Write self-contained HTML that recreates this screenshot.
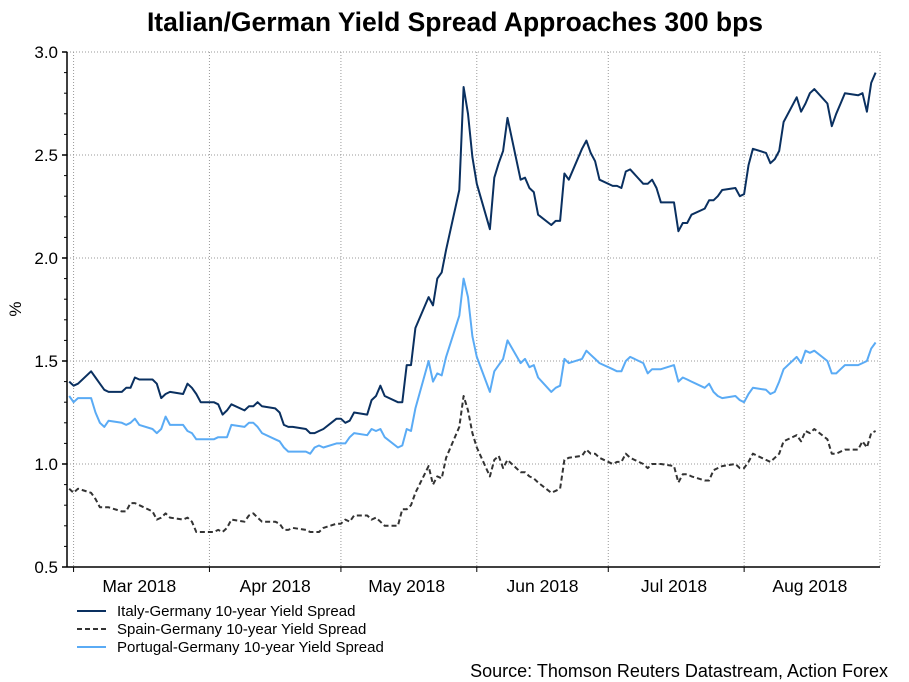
<!DOCTYPE html>
<html><head><meta charset="utf-8"><style>
html,body{margin:0;padding:0;background:#fff;}
svg{display:block;font-family:"Liberation Sans",Arial,sans-serif;}
</style></head><body>
<svg id="chart" width="909" height="682" viewBox="0 0 909 682" xmlns="http://www.w3.org/2000/svg">
<text x="455" y="31" text-anchor="middle" font-size="26.5" font-weight="bold" fill="#000">Italian/German Yield Spread Approaches 300 bps</text>
<text transform="translate(21,309) rotate(-90)" text-anchor="middle" font-size="17" fill="#000">%</text>
<g id="grid"></g>
<g id="axes"></g>
<g id="series"></g>
<g font-size="15" fill="#000">
  <line x1="77" y1="611" x2="106" y2="611" stroke="#0a3060" stroke-width="2"/>
  <text x="117" y="616">Italy-Germany 10-year Yield Spread</text>
  <line x1="77" y1="629" x2="106" y2="629" stroke="#333" stroke-width="2" stroke-dasharray="5,3"/>
  <text x="117" y="634">Spain-Germany 10-year Yield Spread</text>
  <line x1="77" y1="647" x2="106" y2="647" stroke="#5aabf5" stroke-width="2"/>
  <text x="117" y="652">Portugal-Germany 10-year Yield Spread</text>
</g>
<text x="888" y="677" text-anchor="end" font-size="18" fill="#000">Source: Thomson Reuters Datastream, Action Forex</text>
</svg>
<script>
const startDate = "2018-02-28";
const endDate = "2018-08-31";
const monthStarts = ["2018-03-01","2018-04-01","2018-05-01","2018-06-01","2018-07-01","2018-08-01"];
const monthLabels = ["Mar 2018","Apr 2018","May 2018","Jun 2018","Jul 2018","Aug 2018"];
const yTicks = [0.5,1.0,1.5,2.0,2.5,3.0];
const yTickLabels = ["0.5","1.0","1.5","2.0","2.5","3.0"];
const italy = [1.40,1.38,1.39,1.45,1.42,1.39,1.36,1.35,1.35,1.37,1.37,1.42,1.41,1.41,1.39,1.32,1.34,1.35,1.34,1.39,1.37,1.34,1.30,1.30,1.29,1.24,1.26,1.29,1.26,1.28,1.28,1.30,1.28,1.27,1.25,1.19,1.18,1.18,1.17,1.15,1.15,1.16,1.17,1.22,1.22,1.20,1.21,1.25,
1.24,1.31,1.33,1.38,1.33,1.30,1.30,1.48,1.48,1.66,1.81,1.77,1.90,1.93,2.04,2.33,2.83,2.70,2.49,2.36,2.14,2.39,2.46,2.52,2.68,2.38,2.39,2.34,2.32,2.21,2.16,2.18,2.18,2.41,2.38,2.53,2.57,2.51,2.47,2.38,2.35,2.35,2.34,
2.42,2.43,2.36,2.36,2.38,2.34,2.27,2.27,2.13,2.17,2.17,2.21,2.24,2.28,2.28,2.30,2.33,2.34,2.30,2.31,2.45,2.53,2.51,2.46,2.48,2.52,2.66,2.78,2.71,2.75,2.80,2.82,2.75,2.64,2.70,2.75,2.80,2.79,2.80,2.71,2.85,2.90];
const spain = [0.88,0.86,0.88,0.86,0.83,0.79,0.79,0.79,0.77,0.77,0.81,0.81,0.80,0.77,0.73,0.74,0.76,0.74,0.73,0.74,0.72,0.67,0.67,0.67,0.68,0.67,0.69,0.73,0.72,0.75,0.76,0.74,0.72,0.72,0.71,0.68,0.68,0.69,0.68,0.67,0.67,0.67,0.69,0.71,0.71,0.73,0.72,0.75,
0.75,0.73,0.74,0.72,0.70,0.70,0.78,0.78,0.80,0.86,0.99,0.90,0.94,0.93,1.03,1.18,1.33,1.26,1.15,1.08,0.94,1.02,1.04,0.98,1.02,0.96,0.96,0.94,0.93,0.91,0.86,0.87,0.88,1.02,1.03,1.04,1.07,1.05,1.05,1.03,1.00,1.01,1.01,
1.05,1.03,1.00,0.98,1.00,1.00,1.00,0.99,0.91,0.95,0.95,0.94,0.92,0.92,0.97,0.98,0.99,1.00,0.98,0.98,1.01,1.05,1.02,1.01,1.03,1.05,1.11,1.14,1.11,1.16,1.15,1.17,1.12,1.05,1.05,1.06,1.07,1.07,1.11,1.08,1.15,1.16];
const portugal = [1.33,1.30,1.32,1.32,1.25,1.20,1.18,1.21,1.20,1.19,1.20,1.22,1.19,1.17,1.15,1.17,1.23,1.19,1.19,1.16,1.15,1.12,1.12,1.12,1.13,1.13,1.13,1.19,1.18,1.20,1.20,1.18,1.15,1.12,1.11,1.08,1.06,1.06,1.06,1.05,1.08,1.09,1.08,1.10,1.10,1.10,1.13,1.15,
1.14,1.17,1.16,1.17,1.13,1.08,1.09,1.17,1.16,1.27,1.50,1.40,1.44,1.43,1.52,1.72,1.90,1.81,1.62,1.52,1.35,1.45,1.48,1.51,1.60,1.49,1.51,1.47,1.48,1.42,1.35,1.37,1.38,1.51,1.49,1.51,1.55,1.53,1.51,1.49,1.46,1.45,1.45,
1.50,1.52,1.49,1.44,1.46,1.46,1.46,1.48,1.40,1.42,1.41,1.40,1.37,1.39,1.35,1.33,1.32,1.33,1.31,1.30,1.34,1.37,1.36,1.34,1.35,1.40,1.46,1.52,1.49,1.55,1.54,1.55,1.50,1.44,1.44,1.46,1.48,1.48,1.49,1.50,1.56,1.59];

const NS = "http://www.w3.org/2000/svg";
const L = 67, R = 880, T = 52, B = 567;
const dom0 = Date.UTC(2018,1,27,12), dom1 = Date.UTC(2018,8,1);
function ms(s){const p=s.split("-");return Date.UTC(+p[0],+p[1]-1,+p[2]);}
function xScale(t){return L + (t-dom0)/(dom1-dom0)*(R-L);}
function yScale(v){return B - (v-0.5)/(3.0-0.5)*(B-T);}
const dates = [];
for(let t=ms(startDate); t<=ms(endDate); t+=86400000){const d=new Date(t).getUTCDay(); if(d!==0&&d!==6) dates.push(t);}

function mk(tag, attrs, parent){const e=document.createElementNS(NS,tag);for(const k in attrs)e.setAttribute(k,attrs[k]);parent.appendChild(e);return e;}
const grid=document.getElementById("grid"), axes=document.getElementById("axes"), ser=document.getElementById("series");

yTicks.forEach((v,i)=>{
  const y=yScale(v);
  const g=mk("line",{x1:L,x2:R,y1:y,y2:y,stroke:"#999","stroke-width":1,"stroke-dasharray":"1,2"},grid);
  
  
  const tk=mk("line",{x1:L-5,x2:L,y1:y,y2:y,stroke:"#000","stroke-width":1.5},axes);
  
  
  const tx=mk("text",{x:L-9,y:y+6,"text-anchor":"end","font-size":17,fill:"#000"},axes);
  tx.textContent=yTickLabels[i];
  
  
});
for(let v=0.6; v<3.0; v+=0.1){
  if(Math.abs(v*2-Math.round(v*2))<1e-6) continue;
  const y=yScale(v);
  const mt=mk("line",{x1:L-3,x2:L,y1:y,y2:y,stroke:"#000","stroke-width":1},axes);
  
  
}
const rb=mk("line",{x1:R,x2:R,y1:T,y2:B,stroke:"#999","stroke-width":1,"stroke-dasharray":"1,2"},grid);


monthStarts.forEach((s,i)=>{
  const x=xScale(ms(s));
  const g=mk("line",{x1:x,x2:x,y1:T,y2:B,stroke:"#999","stroke-width":1,"stroke-dasharray":"1,2"},grid);
  
  
  const tk=mk("line",{x1:x,x2:x,y1:B,y2:B+5,stroke:"#000","stroke-width":1},axes);
  
  
  const mid=xScale(ms(s)+15*86400000);
  const tx=mk("text",{x:mid,y:B+25,"text-anchor":"middle","font-size":17.5,fill:"#000"},axes);
  tx.textContent=monthLabels[i];
  
  
});
const ya=mk("line",{x1:L,x2:L,y1:T,y2:B,stroke:"#000","stroke-width":1.5},axes);


const xa=mk("line",{x1:L,x2:R,y1:B,y2:B,stroke:"#000","stroke-width":1.5},axes);



function draw(vals, color, dash, name){
  const n=Math.min(vals.length,dates.length);
  let d="";
  for(let i=0;i<n;i++){d+=(i?"L":"M")+xScale(dates[i]).toFixed(1)+","+yScale(vals[i]).toFixed(1);}
  const p=mk("path",{d:d,fill:"none",stroke:color,"stroke-width":2,"stroke-linejoin":"round"},ser);
  if(dash) p.setAttribute("stroke-dasharray",dash);
  
  
}
draw(spain,"#333","5,3","spain-germany-line");
draw(portugal,"#5aabf5",null,"portugal-germany-line");
draw(italy,"#0a3060",null,"italy-germany-line");
</script>
</body></html>
